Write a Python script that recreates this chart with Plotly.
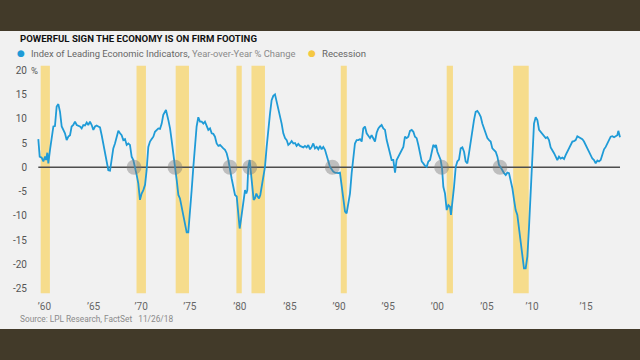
import plotly.graph_objects as go

# ---------------- data ----------------
lei_year = [
    1960.03, 1960.17, 1960.37, 1960.54, 1960.71, 1960.81, 1960.94, 1961.04, 1961.21, 1961.38,
    1961.55, 1961.71, 1961.88, 1962.05, 1962.22, 1962.39, 1962.55, 1962.72, 1962.89, 1963.06,
    1963.23, 1963.39, 1963.56, 1963.73, 1963.90, 1964.07, 1964.23, 1964.40, 1964.57, 1964.74,
    1964.91, 1965.07, 1965.24, 1965.41, 1965.58, 1965.75, 1965.91, 1966.08, 1966.25, 1966.42,
    1966.59, 1966.75, 1966.92, 1967.09, 1967.26, 1967.43, 1967.59, 1967.76, 1967.93, 1968.10,
    1968.27, 1968.43, 1968.60, 1968.77, 1968.94, 1969.11, 1969.27, 1969.44, 1969.61, 1969.78,
    1969.95, 1970.11, 1970.28, 1970.45, 1970.62, 1970.79, 1970.95, 1971.12, 1971.29, 1971.46,
    1971.63, 1971.79, 1971.96, 1972.13, 1972.30, 1972.47, 1972.63, 1972.80, 1972.90, 1973.14,
    1973.31, 1973.47, 1973.64, 1973.81, 1973.98, 1974.15, 1974.31, 1974.48, 1974.65, 1974.82,
    1974.99, 1975.15, 1975.32, 1975.49, 1975.66, 1975.83, 1975.99, 1976.16, 1976.33, 1976.50,
    1976.67, 1976.83, 1977.00, 1977.17, 1977.34, 1977.51, 1977.67, 1977.84, 1978.01, 1978.18,
    1978.35, 1978.51, 1978.68, 1978.85, 1979.02, 1979.19,
    1979.35, 1979.52, 1979.69, 1979.86, 1980.03, 1980.19, 1980.33, 1980.46, 1980.60, 1980.73,
    1980.87, 1981.00, 1981.10, 1981.20, 1981.34, 1981.47, 1981.61, 1981.74, 1981.87, 1982.01,
    1982.14, 1982.28, 1982.41, 1982.55, 1982.71, 1982.88, 1983.05, 1983.22, 1983.39, 1983.55,
    1983.72, 1983.89, 1984.06, 1984.23, 1984.39, 1984.56, 1984.73, 1984.90, 1985.07, 1985.23,
    1985.40, 1985.57, 1985.74, 1985.91, 1986.07, 1986.24, 1986.41, 1986.58, 1986.75, 1986.91,
    1987.08, 1987.25, 1987.42, 1987.59, 1987.75, 1987.92, 1988.09, 1988.26, 1988.43, 1988.59,
    1988.76, 1988.93, 1989.10, 1989.27, 1989.43, 1989.60, 1989.77, 1989.94, 1990.11, 1990.27,
    1990.44, 1990.61, 1990.78, 1990.95, 1991.11, 1991.28, 1991.45, 1991.62, 1991.79, 1991.95,
    1992.12, 1992.29, 1992.46, 1992.63, 1992.79, 1992.96, 1993.13, 1993.30, 1993.47, 1993.63,
    1993.80, 1993.97, 1994.14, 1994.31, 1994.47, 1994.64, 1994.81, 1994.98, 1995.15, 1995.31,
    1995.48, 1995.65, 1995.82, 1995.99, 1996.15, 1996.32, 1996.49, 1996.66, 1996.83, 1996.99,
    1997.16, 1997.33, 1997.50, 1997.67, 1997.84, 1998.00, 1998.17, 1998.34, 1998.51, 1998.68,
    1998.84, 1999.01,
    1999.18, 1999.35, 1999.52, 1999.69, 1999.85, 2000.02, 2000.12, 2000.26, 2000.43, 2000.59,
    2000.73, 2000.86, 2001.03, 2001.20, 2001.37, 2001.53, 2001.63, 2001.77, 2001.94, 2002.11,
    2002.27, 2002.44, 2002.61, 2002.78, 2002.95, 2003.11, 2003.28, 2003.45, 2003.62, 2003.79,
    2003.95, 2004.12, 2004.29, 2004.46, 2004.63, 2004.79, 2004.96, 2005.13, 2005.30, 2005.47,
    2005.63, 2005.80, 2005.97, 2006.14, 2006.31, 2006.47, 2006.64, 2006.81, 2006.98, 2007.15,
    2007.31, 2007.48, 2007.65, 2007.82, 2007.99, 2008.15, 2008.32, 2008.49, 2008.66, 2008.83,
    2008.99, 2009.16, 2009.33, 2009.50, 2009.67, 2009.83, 2010.00, 2010.17, 2010.34, 2010.51,
    2010.67, 2010.84, 2011.01, 2011.18, 2011.35, 2011.51, 2011.68, 2011.85, 2012.02, 2012.19,
    2012.35, 2012.52, 2012.69, 2012.86, 2013.03, 2013.19, 2013.36, 2013.53, 2013.70, 2013.87,
    2014.03, 2014.20, 2014.37, 2014.54, 2014.71, 2014.87, 2015.04, 2015.21, 2015.38, 2015.55,
    2015.71, 2015.88, 2016.05, 2016.22, 2016.39, 2016.55, 2016.72, 2016.89, 2017.06, 2017.23,
    2017.39, 2017.56, 2017.73, 2017.90, 2018.07, 2018.23, 2018.40, 2018.50, 2018.67,
]

lei_yoy = [
    5.8, 2.2, 2.0, 1.2, 2.2, 1.5, 3.0, 0.8, 3.6, 5.6,
    8.4, 8.5, 12.5, 13.0, 11.4, 8.4, 7.7, 7.0, 5.6, 6.3,
    6.6, 8.4, 8.7, 9.4, 8.7, 8.6, 8.4, 8.0, 8.7, 8.6,
    9.2, 8.7, 9.4, 8.7, 7.7, 8.4, 8.6, 8.4, 8.2, 6.6,
    4.9, 3.2, 1.5, -0.6, -0.7, 1.8, 3.9, 4.9, 6.4, 7.5,
    7.0, 6.6, 5.6, 5.8, 4.6, 4.9, 4.6, 2.2, 1.5, 0.1,
    -1.6, -3.3, -6.7, -5.4, -4.7, -3.6, -0.6, 4.2, 5.3, 5.8,
    6.3, 7.3, 7.7, 8.0, 7.9, 9.0, 10.8, 11.4, 11.8, 9.7,
    8.0, 5.6, 2.2, 0.1, -2.6, -5.7, -6.4, -8.1, -9.5, -11.5,
    -13.4, -13.4, -9.5, -4.7, 0.1, 4.9, 8.4, 10.3, 9.4, 9.4,
    9.0, 9.4, 8.4, 7.7, 8.0, 7.0, 6.9, 6.3, 4.9, 4.4,
    4.6, 4.2, 3.9, 3.6, 2.9, 1.5,
    -0.6, -2.3, -4.0, -5.7, -6.0, -9.5, -12.6, -10.8, -8.4, -6.7,
    -4.7, -5.4, -4.7, 0.1, 1.5, -1.2, -4.0, -6.7, -6.4, -5.4,
    -6.0, -6.4, -5.7, -4.0, -1.9, 0.1, 4.2, 8.4, 11.1, 13.8,
    14.7, 15.0, 13.5, 12.5, 10.8, 9.0, 7.0, 6.0, 5.6, 4.6,
    4.9, 5.4, 4.9, 5.0, 4.4, 4.8, 4.4, 4.2, 4.1, 4.4,
    4.1, 4.6, 3.7, 4.2, 4.9, 3.9, 4.2, 3.7, 4.4, 3.7,
    4.2, 3.6, 2.2, 0.8, 0.1, -0.4, -0.9, -1.1, -1.2, -1.2,
    -1.1, -4.0, -6.7, -9.1, -9.5, -7.4, -5.4, -1.2, 1.5, 4.9,
    5.6, 5.6, 5.8, 5.3, 8.0, 8.4, 7.0, 6.6, 6.0, 6.6,
    6.0, 5.3, 7.1, 8.0, 8.4, 8.7, 8.0, 7.7, 5.6, 4.2,
    3.2, 1.5, 1.5, -1.1, 1.5, 2.2, 2.9, 3.6, 4.2, 6.3,
    6.0, 6.3, 7.5, 7.7, 7.3, 6.3, 6.0, 4.6, 2.9, 1.2,
    0.8, 0.3,
    0.1, 1.2, 1.5, 2.9, 4.6, 4.2, 4.6, 3.2, 2.2, 1.5,
    -0.2, -4.0, -5.4, -8.8, -7.8, -8.1, -9.8, -7.4, -4.0, 0.1,
    1.2, 1.6, 3.9, 4.1, 3.2, 1.2, 0.8, 2.9, 5.6, 7.3,
    9.7, 11.4, 11.6, 11.1, 10.4, 9.0, 8.0, 7.3, 6.0, 5.6,
    5.3, 3.9, 3.6, 3.2, 2.2, 0.5, 0.0, -0.7, -1.2, -1.6,
    -1.1, -1.2, -2.6, -4.3, -6.7, -8.8, -9.8, -12.6, -16.3, -19.1,
    -20.8, -20.8, -18.4, -12.2, -5.4, 2.9, 9.0, 10.3, 9.7, 7.7,
    7.3, 6.9, 6.6, 6.0, 6.2, 5.6, 4.1, 3.6, 2.9, 2.2,
    1.5, 2.2, 1.8, 2.0, 1.7, 2.5, 3.2, 4.2, 4.6, 5.3,
    5.4, 5.6, 6.4, 6.2, 6.0, 5.8, 5.3, 4.6, 3.9, 3.4,
    2.5, 1.8, 1.5, 0.8, 1.4, 1.2, 1.5, 2.9, 3.7, 4.2,
    4.9, 5.6, 6.3, 6.4, 6.2, 6.4, 6.6, 7.5, 6.2,
]

recession_start = [1960.27, 1969.93, 1973.88, 1980.00, 1981.52, 1990.52, 2001.20, 2007.90]
recession_end = [1961.20, 1970.88, 1975.22, 1980.54, 1982.88, 1991.13, 2001.83, 2009.47]

# zero crossings that preceded recessions (grey circles)
cross_year = [1969.68, 1973.81, 1979.35, 1981.35, 1989.67, 2000.69, 2006.57]

tick_year = [1960.65, 1965.6, 1970.4, 1975.3, 1980.35, 1985.4, 1990.35, 1995.3, 2000.25, 2005.25, 2009.8, 2015.25]
tick_text = ["’60", "’65", "’70", "’75", "’80", "’85", "’90", "’95", "’00", "’05", "’10", "’15"]
y_ticks = [-25, -20, -15, -10, -5, 0, 5, 10, 15, 20]

# ---------------- styling ----------------
FONT = "Roboto, Liberation Sans, sans-serif"
BLUE = "#1f9bd7"
YELLOW = "#f6dc8c"
DARK = "#423a29"
BG = "#f1f1f1"

W, H = 640, 360
ML, MR, MT, MB = 30, 10, 65, 66
PW, PH = W - ML - MR, H - MT - MB


def px(x):
    return (x - ML) / PW


def py(y):
    return (H - MB - y) / PH


fig = go.Figure()

# zero line
fig.add_trace(go.Scatter(
    x=[lei_year[0], lei_year[-1]], y=[0, 0], mode="lines",
    line=dict(color="#4d4d4d", width=1.6), hoverinfo="skip", showlegend=False))

# LEI line
fig.add_trace(go.Scatter(
    x=lei_year, y=lei_yoy, mode="lines",
    line=dict(color=BLUE, width=1.8), showlegend=False))

# grey circles
fig.add_trace(go.Scatter(
    x=cross_year, y=[0] * len(cross_year), mode="markers",
    marker=dict(size=15, color="rgba(120,120,120,0.42)", line=dict(width=0)),
    hoverinfo="skip", showlegend=False))

shapes = []
for s, e in zip(recession_start, recession_end):
    shapes.append(dict(type="rect", xref="x", yref="y", x0=s, x1=e, y0=-25.9, y1=20.9,
                       fillcolor=YELLOW, line=dict(width=0), layer="below"))
# dark bands top & bottom
shapes.append(dict(type="rect", xref="paper", yref="paper", x0=px(0) - 0.01, x1=px(W) + 0.01,
                   y0=py(31), y1=py(0) + 0.01, fillcolor=DARK, line=dict(width=0), layer="above"))
shapes.append(dict(type="rect", xref="paper", yref="paper", x0=px(0) - 0.01, x1=px(W) + 0.01,
                   y0=py(H) - 0.01, y1=py(329), fillcolor=DARK, line=dict(width=0), layer="above"))

annotations = [
    dict(x=px(18), y=py(38.5), xref="paper", yref="paper", xanchor="left", yanchor="middle",
         text="<b>POWERFUL SIGN THE ECONOMY IS ON FIRM FOOTING</b>", showarrow=False,
         font=dict(family=FONT, size=9.6, color="#111111")),
    dict(x=px(21), y=py(53), xref="paper", yref="paper", xanchor="center", yanchor="middle",
         text="●", showarrow=False, font=dict(family="DejaVu Sans", size=9, color=BLUE)),
    dict(x=px(29), y=py(53), xref="paper", yref="paper", xanchor="left", yanchor="middle",
         text="Index of Leading Economic Indicators, <span style='color:#8a8a8a'>Year-over-Year % Change</span>",
         showarrow=False, font=dict(family=FONT, size=9.4, color="#666666")),
    dict(x=px(312), y=py(53), xref="paper", yref="paper", xanchor="center", yanchor="middle",
         text="●", showarrow=False, font=dict(family="DejaVu Sans", size=9, color="#f5c842")),
    dict(x=px(320), y=py(53), xref="paper", yref="paper", xanchor="left", yanchor="middle",
         text="Recession", showarrow=False, font=dict(family=FONT, size=9.6, color="#666666")),
    dict(x=px(29), y=py(70), xref="paper", yref="paper", xanchor="left", yanchor="middle",
         text="%", showarrow=False, font=dict(family=FONT, size=9.5, color="#555555")),
    dict(x=px(18), y=py(319), xref="paper", yref="paper", xanchor="left", yanchor="middle",
         text="Source: LPL Research, FactSet   11/26/18", showarrow=False,
         font=dict(family=FONT, size=8.3, color="#8a8a8a")),
]

fig.update_layout(
    width=W, height=H,
    margin=dict(l=ML, r=MR, t=MT, b=MB, pad=0),
    paper_bgcolor=BG, plot_bgcolor=BG,
    shapes=shapes, annotations=annotations,
    showlegend=False,
    xaxis=dict(range=[1960 + (ML - 38) / 9.92, 1960 + (W - MR - 38) / 9.92],
               tickvals=tick_year, ticktext=tick_text, showgrid=False, zeroline=False,
               showline=False, ticks="", tickfont=dict(family=FONT, size=10, color="#666666"),
               ticklabelstandoff=5),
    yaxis=dict(range=[-26.07, 21.05], tickvals=y_ticks,
               ticktext=[str(v) for v in y_ticks], showgrid=False, zeroline=False,
               showline=False, ticks="", tickfont=dict(family=FONT, size=10, color="#555555"),
               ticklabelstandoff=2),
)

fig.write_html("out.html", config={"displayModeBar": False},
               post_script="document.body.style.margin='0px';document.body.style.overflow='hidden';")
